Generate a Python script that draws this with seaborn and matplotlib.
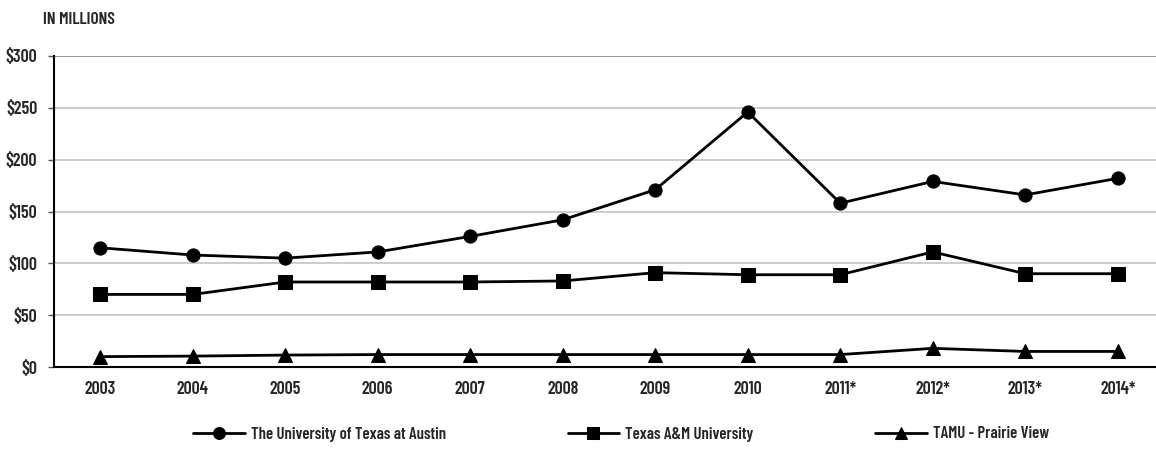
import matplotlib
matplotlib.use("Agg")
import matplotlib.pyplot as plt
from matplotlib import font_manager
import seaborn as sns
import pandas as pd

years = ["2003", "2004", "2005", "2006", "2007", "2008", "2009", "2010",
         "2011*", "2012*", "2013*", "2014*"]
ut_austin = [115, 108, 105, 111, 126, 142, 171, 246, 158, 179, 166, 182]
texas_am = [70, 70, 82, 82, 82, 83, 91, 89, 89, 111, 90, 90]
prairie_view = [10, 10.5, 11.5, 12, 12, 12, 12, 12, 12, 18, 15, 15]
series_names = ["The University of Texas at Austin", "Texas A&M University", "TAMU - Prairie View"]
y_ticks = [0, 50, 100, 150, 200, 250, 300]
y_tick_labels = ["$0", "$50", "$100", "$150", "$200", "$250", "$300"]

sns.set_theme(style="white")
avail = {f.name for f in font_manager.fontManager.ttflist}
FAM = "Barlow Condensed" if "Barlow Condensed" in avail else "DejaVu Sans"
plt.rcParams["font.family"] = [FAM, "DejaVu Sans"]
TXT = "#262626"

df = pd.DataFrame({
    "value": ut_austin + texas_am + prairie_view,
    "series": [series_names[0]] * 12 + [series_names[1]] * 12 + [series_names[2]] * 12,
})
df["pos"] = list(range(len(years))) * 3

fig = plt.figure(figsize=(11.56, 4.54), dpi=100)
ax = fig.add_axes([54 / 1156, 1 - 367 / 454, (1164 - 54) / 1156, (367 - 56) / 454])

sns.lineplot(data=df, x="pos", y="value", hue="series", style="series",
             palette=["black"] * 3, markers=["o", "s", "^"], dashes=False,
             markersize=9.5, linewidth=2, markeredgecolor="black",
             ax=ax, legend=True)

tkw = dict(fontsize=13, fontweight="semibold", color=TXT)
ax.set_xlim(-0.5, 11.5)
ax.set_ylim(0, 300)
ax.set_yticks(y_ticks)
ax.set_yticklabels(y_tick_labels, **tkw)
ax.set_xticks(range(len(years)))
ax.set_xticklabels(years, **tkw)
ax.set_xticks([i - 0.5 for i in range(len(years) + 1)], minor=True)
ax.tick_params(axis="x", which="major", length=0, pad=10)
ax.tick_params(axis="x", which="minor", length=4, width=1, color="#555555", direction="out")
ax.tick_params(axis="y", length=4, width=1, color="#555555", direction="out", left=True, pad=8)
ax.set_xlabel("")
ax.set_ylabel("")
for yv in y_ticks[1:]:
    ax.axhline(yv, color="#c8c8c8" if yv < 300 else "#8c8c8c", linewidth=1.3, zorder=0)
for s in ["top", "right"]:
    ax.spines[s].set_visible(False)
for s in ["left", "bottom"]:
    ax.spines[s].set_color("black")
    ax.spines[s].set_linewidth(1.5)

handles, labels = ax.get_legend_handles_labels()
ax.get_legend().remove()
fig.legend(handles, labels, loc="center", bbox_to_anchor=(621 / 1156, 1 - 434 / 454),
           ncol=3, frameon=False,
           prop={"size": 12, "weight": "semibold", "family": [FAM, "DejaVu Sans"]},
           labelcolor=TXT, handlelength=3.1, handletextpad=0.35, columnspacing=7.3,
           markerscale=0.9)

fig.text(43 / 1156, 1 - 20 / 454, "IN MILLIONS", fontsize=12.5, fontweight="semibold",
         color=TXT, va="center", ha="left")

fig.savefig("out.png", dpi=100)
